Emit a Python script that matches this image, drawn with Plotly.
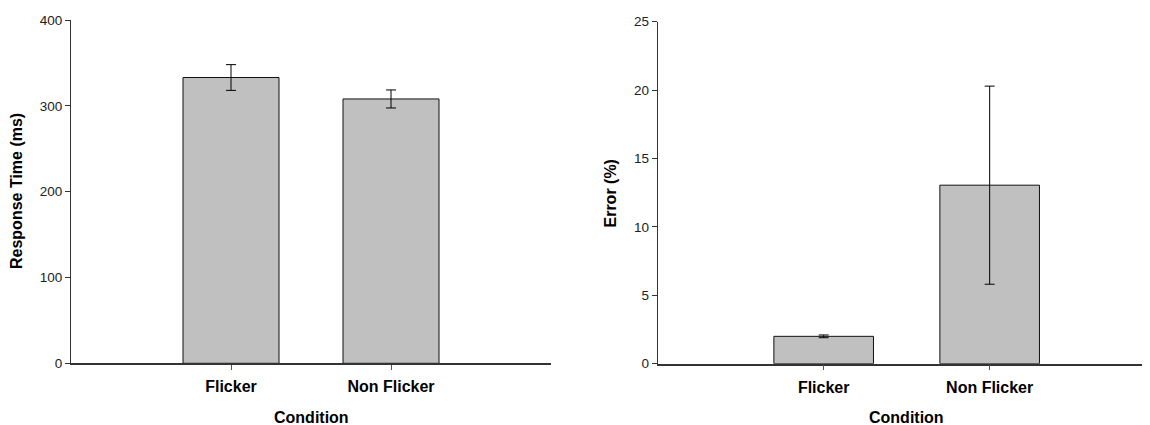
import plotly.graph_objects as go

categories = ["Flicker", "Non Flicker"]
rt_means = [333, 308]
rt_err = [15, 10.5]
err_means = [2.0, 13.05]
err_err = [0.1, 7.24]
rt_ticks = [0, 100, 200, 300, 400]
err_ticks = [0, 5, 10, 15, 20, 25]

# page body has an 8px margin: figure is drawn at (8, 8)
OFF = 8
W, H = 1150 - OFF, 425 - OFF
FONT = "Liberation Sans, Arial, sans-serif"
BAR = "#c0c0c0"


def px(x):
    return (x - OFF) / W


def py(y):
    return (H - (y - OFF)) / H


fig = go.Figure()
for xa, ya, vals, errs in (("x", "y", rt_means, rt_err), ("x2", "y2", err_means, err_err)):
    fig.add_trace(go.Bar(
        x=[0, 1], y=vals, xaxis=xa, yaxis=ya, width=0.6,
        marker=dict(color=BAR, line=dict(color="#111111", width=1)),
        error_y=dict(type="data", array=errs, visible=True, color="#000000", thickness=1, width=5),
        showlegend=False,
    ))

tickfont = dict(family=FONT, size=13.5, color="#222222")
catfont = dict(family=FONT, size=16, color="#000000")


def xaxis(domain, rng):
    return dict(domain=domain, range=rng, tickmode="array", tickvals=[0, 1],
                ticktext=[f"<b>{c}</b>" for c in categories], tickfont=catfont,
                showline=True, linecolor="#333333", linewidth=1.5, ticks="outside",
                ticklen=5, tickcolor="#555555", showgrid=False, zeroline=False,
                ticklabelstandoff=3, fixedrange=True, automargin=False)


def yaxis(domain, rng, vals, anchor):
    return dict(domain=domain, range=rng, tickmode="array", tickvals=vals,
                tickfont=tickfont, showline=True, linecolor="#333333", linewidth=1,
                ticks="outside", ticklen=5, tickcolor="#333333", showgrid=False,
                zeroline=False, anchor=anchor, fixedrange=True, automargin=False)


fig.update_layout(
    width=W, height=H, margin=dict(l=0, r=0, t=0, b=0, autoexpand=False),
    paper_bgcolor="white", plot_bgcolor="white",
    bargap=0.4,
    xaxis=xaxis([px(71), px(551)], [-1, 2]),
    yaxis=yaxis([py(363.3), py(20)], [0, 400], rt_ticks, "x"),
    xaxis2=xaxis([px(657.7), 1.0], [-1, 1.966]),
    yaxis2=yaxis([py(363.7), py(21.7)], [0, 25], err_ticks, "x2"),
)
fig.layout.xaxis.anchor = "y"
fig.layout.xaxis2.anchor = "y2"

titlefont = dict(family=FONT, size=16, color="#000000")
ann = [
    dict(text="<b>Response Time (ms)</b>", x=px(16), y=py(191), textangle=-90),
    dict(text="<b>Error (%)</b>", x=px(610), y=py(193.5), textangle=-90),
    dict(text="<b>Condition</b>", x=px(311), y=py(417)),
    dict(text="<b>Condition</b>", x=px(906.7), y=py(417)),
]
for a in ann:
    fig.add_annotation(xref="paper", yref="paper", showarrow=False,
                       xanchor="center", yanchor="middle", font=titlefont, **a)

fig.write_html("out.html")
